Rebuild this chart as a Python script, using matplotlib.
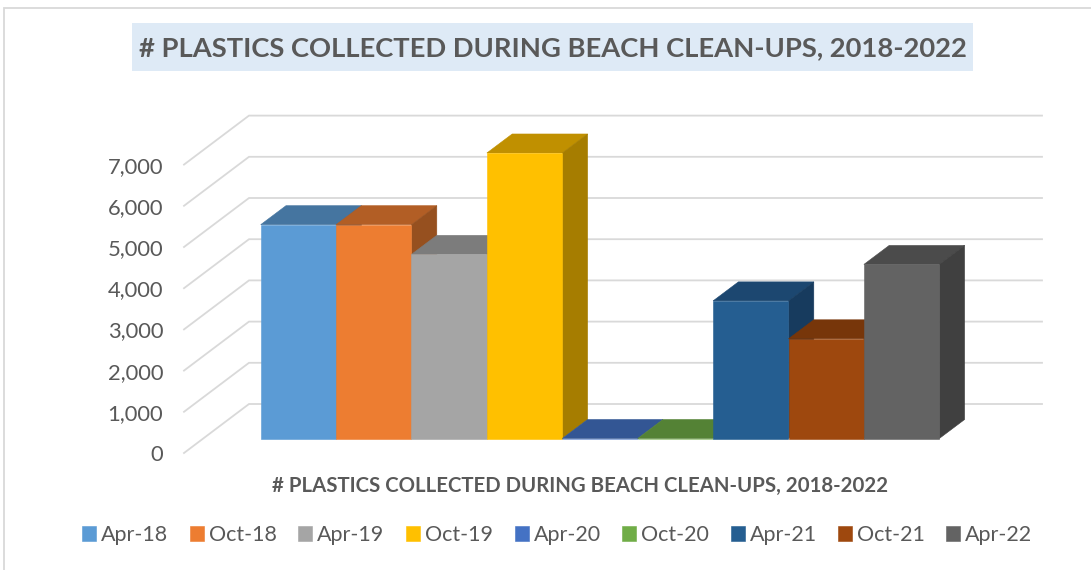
import matplotlib
matplotlib.use("Agg")
import matplotlib.pyplot as plt
from matplotlib.lines import Line2D
from matplotlib.patches import Polygon, Rectangle

plt.rcParams['font.family'] = ['Lato', 'DejaVu Sans']

# ---- data
categories = ["Apr-18", "Oct-18", "Apr-19", "Oct-19", "Apr-20", "Oct-20", "Apr-21", "Oct-21", "Apr-22"]
plastics = [5190, 5190, 4470, 6930, 0, 0, 3340, 2420, 4225]
tick_values = [0, 1000, 2000, 3000, 4000, 5000, 6000, 7000]
tick_labels = ["0", "1,000", "2,000", "3,000", "4,000", "5,000", "6,000", "7,000"]
title = "# PLASTICS COLLECTED DURING BEACH CLEAN-UPS, 2018-2022"

# ---- styles
front_colors = ["#5B9BD5", "#ED7D31", "#A5A5A5", "#FFC000", "#4472C4", "#70AD47", "#255E91", "#9E480E", "#636363"]
top_colors = ["#4575A0", "#B25E25", "#7C7C7C", "#C09000", "#335694", "#548235", "#1C4770", "#77360A", "#4B4B4B"]
side_colors = ["#3E6A92", "#96501F", "#6A6A6A", "#A67D00", "#2C4A80", "#486F2E", "#173B5E", "#65300A", "#404040"]
TEXT = "#595959"
GRID = "#D9D9D9"

W, H = 1091, 570
fig = plt.figure(figsize=(W / 100, H / 100), dpi=100, facecolor="white")

# ---- layout, in pixels of the figure
px_left, px_right = 184.0, 1042.0
px_top, px_floor = 115.7, 453.0
bar_x0, bar_w = 260.7, 75.4
bar_base = 438.5
px_per_unit = 41.2 / 1000
wall_dx, wall_dy = 65.0, 49.0
bar_dx, bar_dy = 25.3, 19.0

ax = fig.add_axes([px_left / W, 1 - px_floor / H, (px_right - px_left) / W, (px_floor - px_top) / H])
ax.set_xlim((px_left - bar_x0) / bar_w, (px_right - bar_x0) / bar_w)
floor_val = (bar_base - px_floor) / px_per_unit
top_val = (bar_base - px_top) / px_per_unit
ax.set_ylim(floor_val, top_val)
ax.patch.set_visible(False)
for s in ax.spines.values():
    s.set_visible(False)

# y ticks sit on the front edge of the wall
ddx = wall_dx / bar_w
ddy = wall_dy / px_per_unit
ax.set_xticks([])
ax.set_yticks([floor_val + v for v in tick_values])
ax.set_yticklabels(tick_labels)
ax.tick_params(axis="y", length=0, pad=15, labelsize=15.8, labelcolor=TEXT)

# gridlines: diagonal on the side wall plus horizontal on the back wall
xl, xr = ax.get_xlim()
for v in tick_values:
    y0 = floor_val + v
    ax.plot([xl, xl + ddx, xr], [y0, y0 + ddy, y0 + ddy], color=GRID, lw=1.3, zorder=1,
            solid_joinstyle="miter", clip_on=False)

# bars: front face, top face, side face, painted left to right
bdx = bar_dx / bar_w
bdy = bar_dy / px_per_unit
for i, (cat, val) in enumerate(zip(categories, plastics)):
    z = 2 + i
    ax.add_patch(Polygon([(i, val), (i + bdx, val + bdy), (i + 1 + bdx, val + bdy), (i + 1, val)],
                         closed=True, fc=top_colors[i], ec=top_colors[i], lw=0.4, zorder=z, clip_on=False))
    if val > 0:
        ax.add_patch(Polygon([(i + 1, 0), (i + 1 + bdx, bdy), (i + 1 + bdx, val + bdy), (i + 1, val)],
                             closed=True, fc=side_colors[i], ec=side_colors[i], lw=0.4, zorder=z, clip_on=False))
    ax.bar(i, val, width=1, align="edge", color=front_colors[i], label=cat, zorder=z + 0.5,
           edgecolor=front_colors[i], lw=0.4, clip_on=False)

# frame: only the top and left rules are visible in the crop
fig.add_artist(Line2D([4 / W, 4 / W, 1], [0, 1 - 7.5 / H, 1 - 7.5 / H], transform=fig.transFigure,
                      color="#D9D9D9", lw=1.3, zorder=-5, solid_joinstyle="miter"))

# title with shaded box
fig.add_artist(Rectangle((132 / W, 1 - 70.5 / H), 841 / W, 47.5 / H, transform=fig.transFigure,
                         fc="#DEEAF6", ec="none", zorder=1))
fig.text(553 / W, 1 - 48 / H, title, ha="center", va="center", fontsize=19.7, fontweight="bold",
         color=TEXT, zorder=2)
fig.text(580 / W, 1 - 486 / H, title, ha="center", va="center", fontsize=14.65, fontweight="bold", color=TEXT)

# legend
handles, labels = ax.get_legend_handles_labels()
fig.legend(handles, labels, ncol=9, loc="center", bbox_to_anchor=(557.5 / W, 1 - 535 / H),
           frameon=False, fontsize=15.5, labelcolor=TEXT, handlelength=0.65, handleheight=0.65,
           handletextpad=0.23, columnspacing=1.0, borderpad=0, borderaxespad=0)

fig.savefig("out.png", dpi=100)
